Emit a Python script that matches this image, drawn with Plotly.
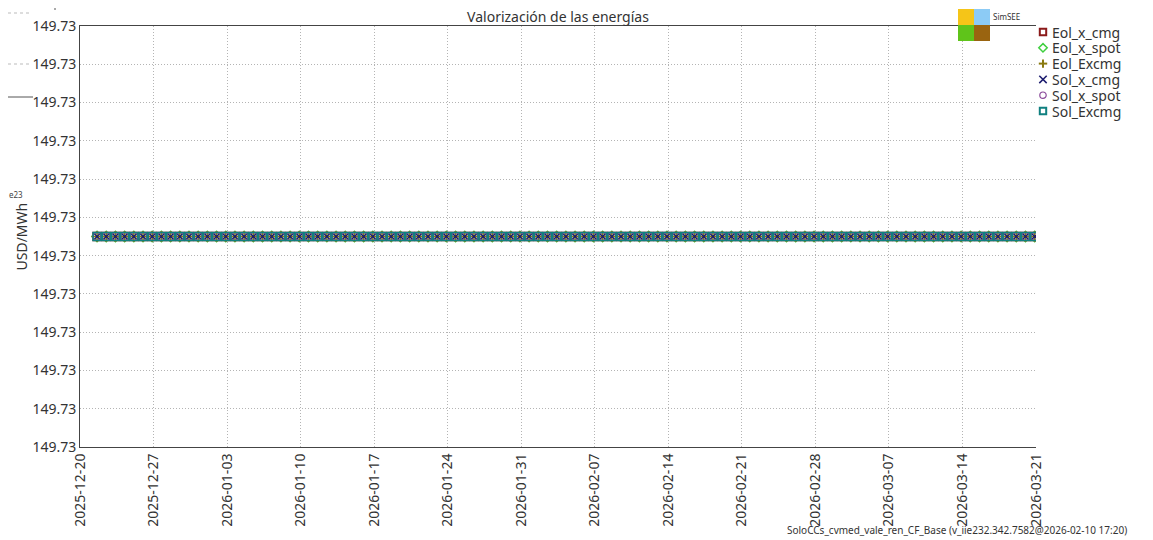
import pandas as pd
import plotly.graph_objects as go

# series values (USD/MWh) - every series sits on the same constant level
fechas = pd.date_range("2025-12-21 15:00", periods=103, freq="21h")
valor = 149.7300
eol_x_cmg = [valor] * len(fechas)
eol_x_spot = [valor] * len(fechas)
eol_excmg = [valor] * len(fechas)
sol_x_cmg = [valor] * len(fechas)
sol_x_spot = [valor] * len(fechas)
sol_excmg = [valor] * len(fechas)

series = [
    ("Eol_x_cmg", eol_x_cmg, "square-open", "#8b1a1a"),
    ("Eol_x_spot", eol_x_spot, "diamond-open", "#3ecf3e"),
    ("Eol_Excmg", eol_excmg, "cross-thin-open", "#8a7a10"),
    ("Sol_x_cmg", sol_x_cmg, "x-thin-open", "#1c1c6e"),
    ("Sol_x_spot", sol_x_spot, "circle-open", "#8a4a9a"),
    ("Sol_Excmg", sol_excmg, "square-open", "#108080"),
]

fig = go.Figure()

# connecting line under the markers
fig.add_trace(
    go.Scatter(
        x=fechas,
        y=sol_excmg,
        mode="lines",
        line=dict(color="#108080", width=1.5),
        showlegend=False,
        hoverinfo="skip",
    )
)

for nombre, vals, simbolo, color in series:
    fig.add_trace(
        go.Scatter(
            x=fechas,
            y=vals,
            mode="markers",
            name=nombre,
            showlegend=False,
            marker=dict(
                symbol=simbolo,
                size=8,
                color=color,
                line=dict(color=color, width=1.5),
            ),
        )
    )


# page has an 8px body margin, so screen px -> paper coords of the plot area
def px_x(p):
    return (p - 80) / 956


def px_y(p):
    return (447 - p) / 421


shapes = []
# SimSEE logo squares
logo = [
    (958, 9, "#f5c518"),
    (974, 9, "#8ccbf5"),
    (958, 25, "#5fc41a"),
    (974, 25, "#9a6410"),
]
for x0, y0, col in logo:
    shapes.append(dict(
        type="rect", xref="paper", yref="paper",
        x0=px_x(x0), x1=px_x(x0 + 16), y0=px_y(y0 + 16), y1=px_y(y0),
        fillcolor=col, line=dict(width=0), layer="above",
    ))

# fragments of the chart behind, on the left edge
shapes += [
    dict(type="line", xref="paper", yref="paper", x0=px_x(8), x1=px_x(33),
         y0=px_y(97), y1=px_y(97), line=dict(color="#555", width=1)),
    dict(type="line", xref="paper", yref="paper", x0=px_x(8), x1=px_x(30),
         y0=px_y(13), y1=px_y(13), line=dict(color="#bbb", width=1, dash="dot")),
    dict(type="line", xref="paper", yref="paper", x0=px_x(8), x1=px_x(30),
         y0=px_y(64), y1=px_y(64), line=dict(color="#bbb", width=1, dash="dot")),
    dict(type="line", xref="paper", yref="paper", x0=px_x(55), x1=px_x(55),
         y0=px_y(8), y1=px_y(10), line=dict(color="#555", width=1)),
]

annotations = [
    dict(text="SimSEE", xref="paper", yref="paper", x=px_x(991), y=px_y(17),
         xanchor="left", yanchor="middle", showarrow=False,
         font=dict(size=8, color="#333")),
    dict(text="SoloCCs_cvmed_vale_ren_CF_Base (v_iie232.342.7582@2026-02-10 17:20)",
         xref="paper", yref="paper", x=px_x(1129), y=px_y(530),
         xanchor="right", yanchor="middle", showarrow=False,
         font=dict(size=10, color="#333")),
    dict(text="e23", xref="paper", yref="paper", x=px_x(7), y=px_y(194),
         xanchor="left", yanchor="middle", showarrow=False,
         font=dict(size=8, color="#444")),
    dict(text="USD/MWh", xref="paper", yref="paper", x=px_x(21), y=0.5,
         xanchor="center", yanchor="middle", showarrow=False, textangle=-90,
         font=dict(size=14, color="#333")),
]

# legend drawn beside the plot: small symbol + text per series
for i, (nombre, _, simbolo, color) in enumerate(series):
    cy = 32 + i * 15.8
    cx = 1043
    h = 3.2
    ln = dict(color=color, width=2)
    if simbolo == "square-open":
        shapes.append(dict(type="rect", xref="paper", yref="paper",
                           x0=px_x(cx - h), x1=px_x(cx + h),
                           y0=px_y(cy + h), y1=px_y(cy - h), line=ln))
    elif simbolo == "circle-open":
        shapes.append(dict(type="circle", xref="paper", yref="paper",
                           x0=px_x(cx - h), x1=px_x(cx + h),
                           y0=px_y(cy + h), y1=px_y(cy - h),
                           line=dict(color=color, width=1.2)))
    elif simbolo == "diamond-open":
        d = h + 1
        shapes.append(dict(
            type="path", xref="paper", yref="paper",
            path=(f"M {px_x(cx - d)} {px_y(cy)} L {px_x(cx)} {px_y(cy - d)} "
                  f"L {px_x(cx + d)} {px_y(cy)} L {px_x(cx)} {px_y(cy + d)} Z"),
            line=dict(color=color, width=1.5)))
    elif simbolo == "cross-thin-open":
        d = h + 1
        shapes.append(dict(type="line", xref="paper", yref="paper",
                           x0=px_x(cx - d), x1=px_x(cx + d),
                           y0=px_y(cy), y1=px_y(cy), line=ln))
        shapes.append(dict(type="line", xref="paper", yref="paper",
                           x0=px_x(cx), x1=px_x(cx),
                           y0=px_y(cy - d), y1=px_y(cy + d), line=ln))
    else:
        d = h + 0.5
        shapes.append(dict(type="line", xref="paper", yref="paper",
                           x0=px_x(cx - d), x1=px_x(cx + d),
                           y0=px_y(cy - d), y1=px_y(cy + d),
                           line=dict(color=color, width=1.5)))
        shapes.append(dict(type="line", xref="paper", yref="paper",
                           x0=px_x(cx - d), x1=px_x(cx + d),
                           y0=px_y(cy + d), y1=px_y(cy - d),
                           line=dict(color=color, width=1.5)))
    annotations.append(dict(
        text=nombre, xref="paper", yref="paper", x=px_x(1050), y=px_y(cy),
        xanchor="left", yanchor="middle", showarrow=False,
        font=dict(size=14, color="#333"),
    ))

fig.update_layout(
    width=1145,
    height=532,
    margin=dict(l=72, r=117, t=18, b=93),
    paper_bgcolor="white",
    plot_bgcolor="white",
    font=dict(family="Noto Sans", size=14, color="#333"),
    title=dict(text="Valorización de las energías", x=550 / 1145, xanchor="center",
               y=1 - 9 / 532, yanchor="middle", font=dict(size=14, color="#333")),
    shapes=shapes,
    annotations=annotations,
    showlegend=False,
)

fig.update_xaxes(
    range=["2025-12-20", "2026-03-21"],
    tick0="2025-12-20",
    dtick=7 * 24 * 3600 * 1000,
    tickformat="%Y-%m-%d",
    tickangle=-90,
    automargin=False,
    showgrid=True,
    gridcolor="#b4b4b4",
    griddash="1px,2px",
    showline=True,
    linecolor="#444",
    mirror=True,
    zeroline=False,
    tickfont=dict(size=14, color="#333"),
)

fig.update_yaxes(
    range=[valor - 0.0044, valor + 0.0044],
    tick0=valor - 0.0044,
    dtick=0.0008,
    tickformat=".2f",
    automargin=False,
    showgrid=True,
    gridcolor="#b4b4b4",
    griddash="1px,2px",
    showline=True,
    linecolor="#444",
    zeroline=False,
    tickfont=dict(size=14, color="#333"),
)

fig.write_html("out.html")
